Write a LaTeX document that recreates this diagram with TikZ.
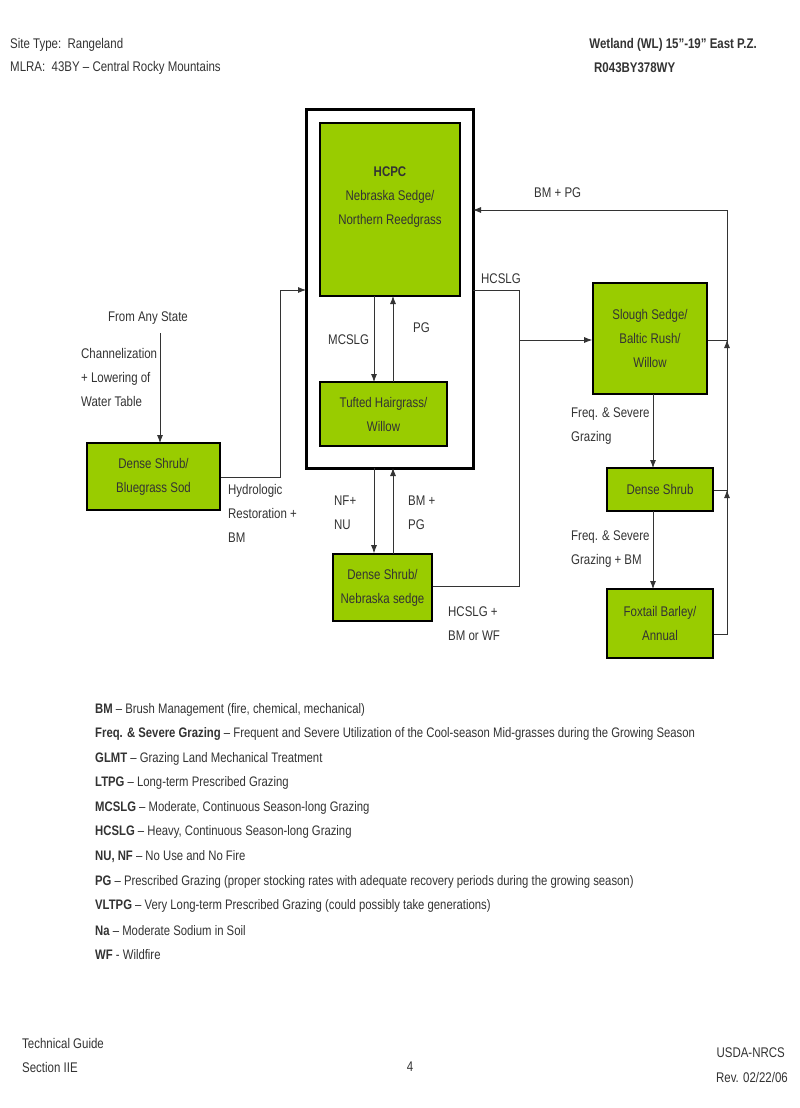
\documentclass[tikz,border=0pt]{standalone}
\usepackage{fontspec}
\setmainfont{Liberation Sans}[FakeStretch=0.82]
\usetikzlibrary{arrows.meta}
\definecolor{gr}{HTML}{99CC00}
\definecolor{tx}{HTML}{333333}
\begin{document}
\begin{tikzpicture}[x=1pt,y=-1pt,
  font=\fontsize{14}{24}\selectfont,
  box/.style={draw=black,line width=1.6pt,fill=gr,text=tx,align=center,inner sep=0pt},
  lbl/.style={text=tx,align=left,inner sep=0pt,anchor=west,font=\fontsize{14}{24}\selectfont},
  conn/.style={draw=tx,line width=0.8pt},
  arr/.style={conn,-{Latex[length=8pt,width=6pt]}}]
\useasboundingbox[fill=white] (0,0) rectangle (800,1108);
% header
\node[lbl] (h1) at (10,45) {Site Type:\ \ Rangeland};
\node[lbl] (h2) at (10,68) {MLRA:\ \ 43BY – Central Rocky Mountains};
\node[lbl,anchor=east,font=\bfseries\fontsize{14}{24}\selectfont] (h3) at (757,45) {Wetland (WL) 15”-19” East P.Z.};
\node[lbl,font=\bfseries\fontsize{14}{24}\selectfont] (h4) at (594,68) {R043BY378WY};
% outer box
\draw[line width=3pt] (306,109) rectangle (473,468);
\coordinate (outer) at (473,290);
\node[box,minimum width=140pt,minimum height=173pt] (hcpc) at (390,209.5) {};
\node[text=tx,align=center] at (390,197) {\textbf{HCPC}\\Nebraska Sedge/\\Northern Reedgrass};
\node[box,minimum width=127pt,minimum height=64pt] (tuft) at (383.5,414) {Tufted Hairgrass/\\Willow};
\draw[arr] (374,296) -- (374,382);
\draw[arr] (393,382) -- (393,296);
\node[lbl] at (328,340) {MCSLG};
\node[lbl] at (413,328) {PG};
% below
\node[box,minimum width=99pt,minimum height=67pt] (neb) at (382.5,587.5) {Dense Shrub/\\Nebraska sedge};
\draw[arr] (374,468) -- (neb.north -| 374,0);
\draw[arr] (393,554) -- (393,468);
\node[lbl] at (334,513) {NF+\\NU};
\node[lbl] at (408,513) {BM +\\PG};
% HCSLG
\coordinate (j1) at (519,290);
\coordinate (j2) at (519,586);
\coordinate (j3) at (519,340);
\draw[conn] (outer) -- (j1) -- (j2) -- (neb.east |- j2);
\node[lbl] at (481,279) {HCSLG};
\node[lbl] at (448,624) {HCSLG +\\BM or WF};
% slough
\node[box,minimum width=114pt,minimum height=111pt] (slo) at (650,338.5) {Slough Sedge/\\Baltic Rush/\\Willow};
\draw[arr] (j3) -- (slo.west |- j3);
\node[box,minimum width=106pt,minimum height=43pt] (ds) at (660,489.5) {Dense Shrub};
\node[box,minimum width=106pt,minimum height=69pt] (fox) at (660,623.5) {Foxtail Barley/\\Annual};
\draw[arr] (653,394) -- (653,468);
\draw[arr] (653,511) -- (653,589);
\node[lbl] at (571,426) {Freq. \& Severe\\Grazing};
\node[lbl] at (571,549) {Freq. \& Severe\\Grazing + BM};
% right return
\coordinate (r0) at (727,210);
\coordinate (r1) at (727,340);
\coordinate (r2) at (727,490);
\coordinate (r3) at (727,634);
\draw[conn] (fox.east |- r3) -- (r3) -- (r0);
\draw[arr] (r0) -- (outer |- r0);
\draw[conn] (slo.east |- r1) -- (r1);
\draw[conn] (ds.east |- r2) -- (r2);
\draw[arr] (727,352) -- (r1);
\draw[arr] (727,502) -- (r2);
\node[lbl] at (534,193) {BM + PG};
% left
\node[lbl,anchor=center] (fas) at (148,318) {From Any State};
\node[box,minimum width=133pt,minimum height=67pt] (bg) at (153.5,476.5) {Dense Shrub/\\Bluegrass Sod};
\draw[arr] (160,333) -- (160,443);
\node[lbl] at (81,377) {Channelization\\+ Lowering of\\Water Table};
\coordinate (k1) at (280,477);
\coordinate (k2) at (280,290);
\draw[conn] (bg.east |- k1) -- (k1) -- (k2);
\draw[arr] (k2) -- (306,290);
\node[lbl] at (228,513) {Hydrologic\\Restoration +\\BM};
% legend
\begin{scope}[every node/.style={lbl,font=\fontsize{13.8}{24}\selectfont}]
\node at (95,710) {\textbf{BM} – Brush Management (fire, chemical, mechanical)};
\node at (95,734) {\textbf{Freq. \& Severe Grazing} – Frequent and Severe Utilization of the Cool-season Mid-grasses during the Growing Season};
\node at (95,759) {\textbf{GLMT} – Grazing Land Mechanical Treatment};
\node at (95,783) {\textbf{LTPG} – Long-term Prescribed Grazing};
\node at (95,808) {\textbf{MCSLG} – Moderate, Continuous Season-long Grazing};
\node at (95,832) {\textbf{HCSLG} – Heavy, Continuous Season-long Grazing};
\node at (95,857) {\textbf{NU, NF} – No Use and No Fire};
\node at (95,882) {\textbf{PG} – Prescribed Grazing (proper stocking rates with adequate recovery periods during the growing season)};
\node at (95,906) {\textbf{VLTPG} – Very Long-term Prescribed Grazing (could possibly take generations)};
\node at (95,931) {\textbf{Na} – Moderate Sodium in Soil};
\node at (95,955) {\textbf{WF} - Wildfire};
\end{scope}
% footer
\node[lbl] at (22,1043) {Technical Guide};
\node[lbl] at (22,1067) {Section IIE};
\node[lbl,anchor=center] at (410,1067) {4};
\node[lbl,anchor=east] at (785,1053) {USDA-NRCS};
\node[lbl,anchor=east] at (788,1077) {Rev. 02/22/06};
\end{tikzpicture}
\end{document}
